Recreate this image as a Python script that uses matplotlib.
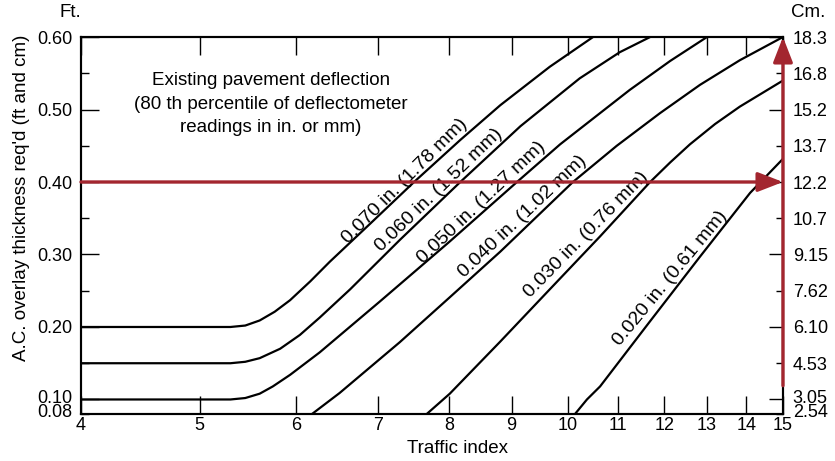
import matplotlib
matplotlib.use('Agg')
import matplotlib.pyplot as plt
from matplotlib.ticker import FixedLocator, FixedFormatter, NullLocator

plt.rcParams['font.family'] = ['Liberation Sans', 'DejaVu Sans']

# ---------------- data ----------------
traffic_ticks = [4, 5, 6, 7, 8, 9, 10, 11, 12, 13, 14, 15]
traffic_labels = [str(t) for t in traffic_ticks]

ft_major = [0.10, 0.20, 0.30, 0.40, 0.50, 0.60]
ft_major_labels = ['', '0.20', '0.30', '0.40', '0.50', '0.60']
ft_minor = [0.08, 0.15, 0.25, 0.35, 0.45, 0.55]
cm_major_labels = ['', '6.10', '9.15', '12.2', '15.2', '18.3']
cm_minor_labels = ['', '4.53', '7.62', '10.7', '13.7', '16.8']
# the two crowded bottom labels on each side (0.10 and 0.08 ft)
ft_bottom_labels = ['0.10', '0.08']
cm_bottom_labels = ['3.05', '2.54']

curve_labels = ['0.070 in. (1.78 mm)', '0.060 in. (1.52 mm)', '0.050 in. (1.27 mm)',
                '0.040 in. (1.02 mm)', '0.030 in. (0.76 mm)', '0.020 in. (0.61 mm)']

x070 = [4, 5.30, 5.45, 5.60, 5.76, 5.93, 6.16, 6.39, 6.89, 7.50, 8.17, 8.81, 9.67, 10.49]
y070 = [0.20, 0.20, 0.202, 0.209, 0.221, 0.237, 0.263, 0.290, 0.342, 0.401, 0.458, 0.506, 0.559, 0.60]

x060 = [4, 5.30, 5.45, 5.60, 5.82, 6.04, 6.27, 6.64, 7.29, 8.17, 9.15, 10.23, 11.03, 11.68]
y060 = [0.15, 0.15, 0.152, 0.157, 0.170, 0.189, 0.213, 0.252, 0.320, 0.40, 0.477, 0.543, 0.579, 0.60]

x050 = [4, 5.30, 5.45, 5.60, 5.74, 5.93, 6.27, 7.02, 8.01, 9.09, 9.86, 11.24, 12.13, 13.00]
y050 = [0.10, 0.10, 0.102, 0.108, 0.118, 0.134, 0.165, 0.235, 0.318, 0.40, 0.452, 0.527, 0.567, 0.60]

x040 = [6.18, 6.51, 7.29, 8.01, 8.81, 10.10, 10.97, 11.90, 12.83, 13.83, 15.0]
y040 = [0.08, 0.109, 0.179, 0.241, 0.304, 0.40, 0.45, 0.495, 0.534, 0.568, 0.60]

x030 = [7.67, 8.01, 8.81, 9.67, 10.63, 11.68, 12.13, 12.59, 13.20, 13.83, 15.0]
y030 = [0.08, 0.108, 0.18, 0.252, 0.325, 0.40, 0.427, 0.452, 0.480, 0.504, 0.540]

x020 = [10.14, 10.37, 10.63, 11.68, 12.83, 14.10, 15.0]
y020 = [0.08, 0.10, 0.118, 0.208, 0.297, 0.385, 0.432]

example_thickness = 0.40
vertical_arrow_start = 0.119

note_text = ("Existing pavement deflection\n(80 th percentile of deflectometer\n"
             "readings in in. or mm)")

# ---------------- layout ----------------
red = '#a3262f'
fs = 13.5
tfs = 13

fig = plt.figure(figsize=(8.35, 4.61), dpi=100)
ax = fig.add_axes([0.0970, 0.1020, 0.8407, 0.8177])

curves = [(x070, y070), (x060, y060), (x050, y050),
          (x040, y040), (x030, y030), (x020, y020)]
for xs, ys in curves:
    ax.plot(xs, ys, color='black', lw=1.6, solid_joinstyle='round',
            solid_capstyle='butt', zorder=3)

ax.set_xscale('log')
ax.set_xlim(4, 15)
ax.set_ylim(0.08, 0.60)

ax.xaxis.set_major_locator(FixedLocator(traffic_ticks))
ax.xaxis.set_major_formatter(FixedFormatter(traffic_labels))
ax.xaxis.set_minor_locator(NullLocator())
ax.tick_params(axis='x', which='major', direction='in', length=13, width=1.0,
               top=True, bottom=True, labelsize=tfs, pad=2)

ax.yaxis.set_major_locator(FixedLocator(ft_major))
ax.yaxis.set_major_formatter(FixedFormatter(ft_major_labels))
ax.yaxis.set_minor_locator(FixedLocator(ft_minor))
ax.yaxis.set_minor_formatter(FixedFormatter([''] * len(ft_minor)))
ax.tick_params(axis='y', which='major', direction='in', length=13, width=1.0,
               labelsize=tfs, pad=6)
ax.tick_params(axis='y', which='minor', direction='in', length=6, width=1.0,
               labelsize=tfs, pad=6)

ax2 = ax.twinx()
ax2.set_ylim(0.08, 0.60)
ax2.yaxis.set_major_locator(FixedLocator(ft_major))
ax2.yaxis.set_major_formatter(FixedFormatter(cm_major_labels))
ax2.yaxis.set_minor_locator(FixedLocator(ft_minor))
ax2.yaxis.set_minor_formatter(FixedFormatter(cm_minor_labels))
ax2.tick_params(axis='y', which='major', direction='in', length=10, width=1.0,
                labelsize=tfs, pad=7)
ax2.tick_params(axis='y', which='minor', direction='in', length=5, width=1.0,
                labelsize=tfs, pad=7)

# crowded bottom labels, stacked tightly like the original (one text each side)
ax.annotate('\n'.join(ft_bottom_labels), xy=(0, 0), xycoords='axes fraction',
            xytext=(-8.3, -7.5), textcoords='offset pixels', ha='right',
            va='bottom', fontsize=tfs, linespacing=0.78, annotation_clip=False)
ax.annotate('\n'.join(cm_bottom_labels), xy=(1, 0), xycoords='axes fraction',
            xytext=(9.7, -7.5), textcoords='offset pixels', ha='left',
            va='bottom', fontsize=tfs, linespacing=0.78, annotation_clip=False)

for a in (ax, ax2):
    for s in a.spines.values():
        s.set_linewidth(1.5)

# curve labels
label_pos = [(0.4615, 0.618, 45), (0.5100, 0.594, 44), (0.5712, 0.562, 43.5),
             (0.6296, 0.523, 43.5), (0.7194, 0.475, 45.5), (0.8390, 0.361, 50.5)]
for txt, (fx, fy, rot) in zip(curve_labels, label_pos):
    ax.text(fx, fy, txt, transform=ax.transAxes, rotation=rot,
            rotation_mode='anchor', ha='center', va='center', fontsize=14,
            zorder=4)

ax.text(0.2707, 0.822, note_text, transform=ax.transAxes, ha='center',
        va='center', fontsize=fs, linespacing=1.5)

# red arrows
arrow_style = '-|>,head_length=0.9,head_width=0.35'
ax.annotate('', xy=(15, example_thickness), xytext=(4, example_thickness),
            arrowprops=dict(arrowstyle=arrow_style, color=red, lw=2.4,
                            mutation_scale=17, shrinkA=0, shrinkB=0),
            annotation_clip=False, zorder=6)
ax.annotate('', xy=(15, 0.60), xytext=(15, vertical_arrow_start),
            arrowprops=dict(arrowstyle=arrow_style, color=red, lw=2.4,
                            mutation_scale=17, shrinkA=0, shrinkB=0),
            annotation_clip=False, zorder=6)
ax2.set_zorder(0)
ax.set_zorder(1)
ax.patch.set_visible(False)

# axis titles
fig.text(0.0838, 0.972, 'Ft.', ha='center', va='center', fontsize=fs)
fig.text(0.9677, 0.972, 'Cm.', ha='center', va='center', fontsize=fs)
fig.text(0.026, 0.5705, "A.C. overlay thickness req'd (ft and cm)", rotation=90,
         ha='center', va='center', fontsize=fs)
fig.text(0.5485, 0.028, 'Traffic index', ha='center', va='center', fontsize=fs)

fig.savefig('out.png', dpi=100)
